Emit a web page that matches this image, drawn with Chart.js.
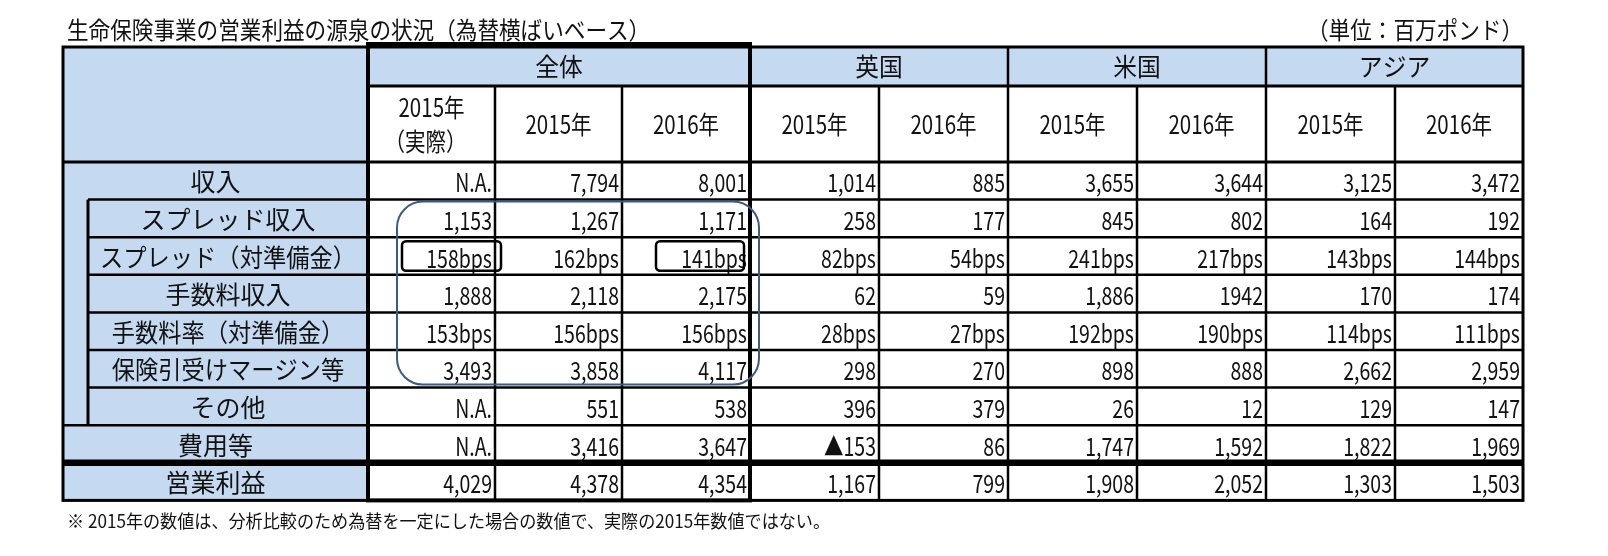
<!DOCTYPE html>
<html><head><meta charset="utf-8">
<script src="https://cdn.jsdelivr.net/npm/chart.js@4/dist/chart.umd.min.js"></script>
<style>html,body{margin:0;padding:0;background:#fff}#w{width:1608px;height:556px}</style>
</head><body><div id="w"><canvas id="c" width="1608" height="556"></canvas></div>
<script>
const title = "生命保険事業の営業利益の源泉の状況（為替横ばいベース）";
const unitText = "（単位：百万ポンド）";
const footnote = "※ 2015年の数値は、分析比較のため為替を一定にした場合の数値で、実際の2015年数値ではない。";
const regions = ["全体", "英国", "米国", "アジア"];
const regionSpans = [3, 2, 2, 2];
const years = ["2015年\n（実際）", "2015年", "2016年", "2015年", "2016年", "2015年", "2016年", "2015年", "2016年"];
const rowLabels = ["収入", "スプレッド収入", "スプレッド（対準備金）", "手数料収入", "手数料率（対準備金）", "保険引受けマージン等", "その他", "費用等", "営業利益"];
const rowIndent = [0, 1, 1, 1, 1, 1, 1, 0, 0];
const col2015A = ["N.A.", "1,153", "158bps", "1,888", "153bps", "3,493", "N.A.", "N.A.", "4,029"];
const col2015T = ["7,794", "1,267", "162bps", "2,118", "156bps", "3,858", "551", "3,416", "4,378"];
const col2016T = ["8,001", "1,171", "141bps", "2,175", "156bps", "4,117", "538", "3,647", "4,354"];
const col2015UK = ["1,014", "258", "82bps", "62", "28bps", "298", "396", "▲153", "1,167"];
const col2016UK = ["885", "177", "54bps", "59", "27bps", "270", "379", "86", "799"];
const col2015US = ["3,655", "845", "241bps", "1,886", "192bps", "898", "26", "1,747", "1,908"];
const col2016US = ["3,644", "802", "217bps", "1942", "190bps", "888", "12", "1,592", "2,052"];
const col2015AS = ["3,125", "164", "143bps", "170", "114bps", "2,662", "129", "1,822", "1,303"];
const col2016AS = ["3,472", "192", "144bps", "174", "111bps", "2,959", "147", "1,969", "1,503"];
const columns = [col2015A, col2015T, col2016T, col2015UK, col2016UK, col2015US, col2016US, col2015AS, col2016AS];

// layout (scale units)
const colW = [305, 127, 127, 128, 129, 129, 129, 129, 129, 128];
const headH = [39, 76];
const rowH = 37.6;
const BLUE = "#c5d9f1";
const FONT = '"Noto Sans CJK JP","Noto Sans",sans-serif';

const colEdges = [0]; colW.forEach(w => colEdges.push(colEdges[colEdges.length-1] + w));
const totalW = colEdges[colEdges.length-1];
const rowEdges = [0, headH[0], headH[0]+headH[1]];
rowLabels.forEach(() => rowEdges.push(rowEdges[rowEdges.length-1] + rowH));
const totalH = rowEdges[rowEdges.length-1];

function txt(ctx, s, x, y, align, size, sx) {
  ctx.save();
  ctx.font = size + "px " + FONT;
  ctx.textBaseline = "middle";
  ctx.translate(x, y); ctx.scale(sx, 1);
  ctx.textAlign = align;
  ctx.fillStyle = "#111";
  ctx.fillText(s, 0, 0);
  ctx.restore();
}

const tablePlugin = {
  id: "table",
  afterDraw(chart) {
    const ctx = chart.ctx, xs = chart.scales.x, ys = chart.scales.y;
    const X = v => xs.getPixelForValue(v), Y = v => ys.getPixelForValue(v);
    const line = (x1, y1, x2, y2, w) => { ctx.beginPath(); ctx.lineWidth = w; ctx.strokeStyle = "#000"; ctx.moveTo(x1, y1); ctx.lineTo(x2, y2); ctx.stroke(); };
    ctx.fillStyle = BLUE;
    ctx.fillRect(X(0), Y(0), X(colEdges[1]) - X(0), Y(totalH) - Y(0));
    ctx.fillRect(X(colEdges[1]), Y(0), X(totalW) - X(colEdges[1]), Y(rowEdges[1]) - Y(0));
    txt(ctx, title, X(0) + 4, 30, "left", 24, 0.9);
    txt(ctx, unitText, X(totalW), 30, "right", 24, 0.9);
    txt(ctx, footnote, X(0) + 4, 521, "left", 18, 0.95);
    let c = 1;
    regions.forEach((r, i) => {
      const x1 = X(colEdges[c]), x2 = X(colEdges[c + regionSpans[i]]);
      txt(ctx, r, (x1 + x2) / 2, (Y(0) + Y(rowEdges[1])) / 2, "center", 25, 0.95);
      c += regionSpans[i];
    });
    years.forEach((y, i) => {
      const cx = (X(colEdges[i+1]) + X(colEdges[i+2])) / 2, cy = (Y(rowEdges[1]) + Y(rowEdges[2])) / 2;
      const parts = y.split("\n");
      if (parts.length === 1) txt(ctx, parts[0], cx, cy, "center", 25, 0.82);
      else { txt(ctx, parts[0], cx, cy - 17, "center", 25, 0.82); txt(ctx, parts[1], cx - 6, cy + 17, "center", 25, 0.82); }
    });
    rowLabels.forEach((l, r) => {
      const cy = (Y(rowEdges[r+2]) + Y(rowEdges[r+3])) / 2;
      const lx = rowIndent[r] ? (X(25) + X(colEdges[1])) / 2 : (X(0) + X(colEdges[1])) / 2;
      const sx = l.length > 9 ? 0.93 : 1;
      txt(ctx, l, lx, cy + 1, "center", 25, sx);
      columns.forEach((col, k) => {
        txt(ctx, col[r], X(colEdges[k+2]) - 3, cy + 2, "right", 25, 0.78);
      });
    });
    for (let r = 2; r < rowEdges.length - 1; r++) {
      const x0 = (r >= 3 && r <= 8) ? X(25) : X(0);
      line(x0, Y(rowEdges[r]), X(totalW), Y(rowEdges[r]), r === 2 ? 3 : 2.5);
    }
    line(X(25), Y(rowEdges[3]), X(25), Y(rowEdges[9]), 3);
    line(X(0), Y(rowEdges[10]) - 2, X(totalW), Y(rowEdges[10]) - 2, 2.5);
    line(X(0), Y(rowEdges[10]) + 2, X(totalW), Y(rowEdges[10]) + 2, 2.5);
    line(X(colEdges[1]), Y(rowEdges[1]), X(totalW), Y(rowEdges[1]), 3);
    colEdges.forEach((e, i) => {
      if (i === 0 || i === colEdges.length - 1) return;
      const y0 = (i === 1 || i === 4 || i === 6 || i === 8) ? Y(0) : Y(rowEdges[1]);
      line(X(e), y0, X(e), Y(totalH), (i === 1 || i === 4) ? 4 : 2.5);
    });
    ctx.lineWidth = 3; ctx.strokeStyle = "#000";
    ctx.strokeRect(X(0), Y(0), X(totalW) - X(0), Y(totalH) - Y(0));
    ctx.lineWidth = 4;
    ctx.strokeRect(X(colEdges[1]), Y(0) - 3, X(colEdges[4]) - X(colEdges[1]), Y(totalH) - Y(0) + 3);
    const rr = (x, y, w, h, rad, col, lw) => { ctx.beginPath(); ctx.lineWidth = lw; ctx.strokeStyle = col; ctx.roundRect(x, y, w, h, rad); ctx.stroke(); };
    rr(X(colEdges[1]) + 29, Y(rowEdges[3]) + 2, X(colEdges[4]) - X(colEdges[1]) - 20, Y(rowEdges[8]) - Y(rowEdges[3]) - 5, 26, "#3d5a80", 2);
    rr(X(colEdges[1]) + 34, Y(rowEdges[4]) + 4, X(colEdges[2]) - X(colEdges[1]) - 28, rowH - 8, 4, "#000", 2.5);
    rr(X(colEdges[3]) + 34, Y(rowEdges[4]) + 4, X(colEdges[4]) - X(colEdges[3]) - 40, rowH - 8, 4, "#000", 2.5);
  }
};

new Chart(document.getElementById("c"), {
  type: "scatter",
  data: { datasets: [{ data: [], pointRadius: 0 }] },
  options: {
    responsive: false, animation: false,
    layout: { padding: { left: 63, right: 1608 - 63 - totalW, top: 47, bottom: 556 - 47 - totalH } },
    plugins: { legend: { display: false }, tooltip: { enabled: false } },
    scales: {
      x: { type: "linear", min: 0, max: totalW, display: false },
      y: { type: "linear", min: 0, max: totalH, reverse: true, display: false }
    }
  },
  plugins: [tablePlugin]
});
</script></body></html>
